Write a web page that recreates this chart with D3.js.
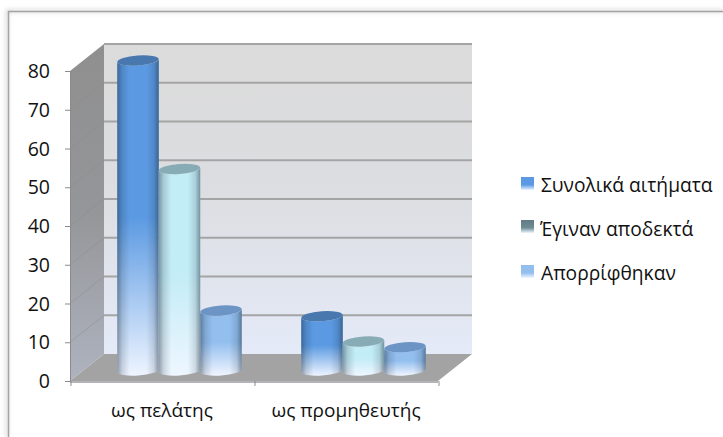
<!DOCTYPE html>
<html>
<head>
<meta charset="utf-8">
<script src="https://cdnjs.cloudflare.com/ajax/libs/d3/7.8.5/d3.min.js"></script>
<style>
html,body{margin:0;padding:0;background:#fff}
svg{display:block}
text{font-family:"Open Sans",sans-serif;fill:#111}
</style>
</head>
<body>
<svg id="chart" width="723" height="437"></svg>
<script>
const categories = ["ως πελάτης", "ως προμηθευτής"];
const seriesNames = ["Συνολικά αιτήματα", "Έγιναν αποδεκτά", "Απορρίφθηκαν"];
const totalRequests = [80, 14];
const accepted = [52, 7.5];
const rejected = [15.5, 6];
const yTicks = [0, 10, 20, 30, 40, 50, 60, 70, 80];
const seriesValues = [totalRequests, accepted, rejected];
const seriesColors = [
  {cap: "#4878ae", body: "#5b9ae2", pale: "#eef4ff"},
  {cap: "#88acb5", body: "#c2ecf6", pale: "#eef6ff"},
  {cap: "#6c95c6", body: "#93bfef", pale: "#f0f5ff"}
];

const svg = d3.select("#chart");
const defs = svg.append("defs");

// Plot geometry: front face of the box plus the depth offset to the back wall
const plot = {left: 70, right: 438, top: 71, bottom: 381, depthX: 34, depthY: -27};
const y = d3.scaleLinear().domain([0, 80]).range([plot.bottom, plot.top]);
const x0 = d3.scaleBand().domain(categories).range([plot.left, plot.right]);
const barBand = 124.5;
const x1 = d3.scaleBand().domain(d3.range(seriesNames.length)).range([0, barBand]);
const barShift = {x: 17.5, y: -10.5};

function vGrad(id, stops) {
  const g = defs.append("linearGradient").attr("id", id).attr("x1", 0).attr("y1", 0).attr("x2", 0).attr("y2", 1);
  stops.forEach(s => g.append("stop").attr("offset", s[0]).attr("stop-color", s[1]));
}
function hGrad(id, stops) {
  const g = defs.append("linearGradient").attr("id", id).attr("x1", 0).attr("y1", 0).attr("x2", 1).attr("y2", 0);
  stops.forEach(s => g.append("stop").attr("offset", s[0]).attr("stop-color", s[1]).attr("stop-opacity", s[2] === undefined ? 1 : s[2]));
}
vGrad("wallBack", [[0, "#dbdbdb"], [0.45, "#dcdde0"], [1, "#e4eaf8"]]);
vGrad("wallSide", [[0, "#8f8f8f"], [0.5, "#959699"], [1, "#aeb3bf"]]);
seriesColors.forEach((c, i) => {
  vGrad("bar" + i, [[0, c.body], [0.5, c.body], [1, c.pale]]);
  vGrad("key" + i, [[0, i === 1 ? "#5f7c86" : c.body], [0.6, i === 1 ? "#6f8c95" : c.body], [1, c.pale]]);
});
hGrad("shade", [[0, "#123", 0.42], [0.12, "#123", 0.16], [0.3, "#123", 0], [0.7, "#123", 0], [0.88, "#123", 0.14], [1, "#123", 0.45]]);
defs.append("filter").attr("id", "glow").attr("x", "-50%").attr("y", "-50%").attr("width", "200%").attr("height", "200%")
  .append("feGaussianBlur").attr("stdDeviation", 2);

// Chart frame: open at the bottom and right, with a faint shadow outside it
const frame = svg.append("g");
frame.append("path").attr("d", "M7,437V11H723").attr("fill", "none").attr("stroke", "#d8d8d8").attr("stroke-width", 3).attr("filter", "url(#glow)");
frame.append("path").attr("d", "M8.5,437V11.5H723").attr("fill", "none").attr("stroke", "#a3a3a3").attr("stroke-width", 1.5);

const scene = svg.append("g");
const d = plot;
const backX0 = d.left + d.depthX, backX1 = d.right + d.depthX;

// Back wall, side wall and floor
scene.append("rect").attr("x", backX0).attr("y", y(80) + d.depthY)
  .attr("width", backX1 - backX0).attr("height", y(0) - y(80)).attr("fill", "url(#wallBack)");
scene.append("path").attr("fill", "url(#wallSide)")
  .attr("d", `M${d.left},${y(80)}L${backX0},${y(80) + d.depthY}V${y(0) + d.depthY}L${d.left},${y(0)}Z`);
scene.append("path").attr("fill", "#a3a3a3")
  .attr("d", `M${d.left},${y(0)}L${backX0},${y(0) + d.depthY}H${backX1}L${d.right},${y(0)}Z`);
scene.append("rect").attr("x", d.left).attr("y", y(0)).attr("width", d.right - d.left).attr("height", 2).attr("fill", "#b4b4b8");

// Gridlines across the back wall and running down the side wall
scene.selectAll("line.grid").data(yTicks.slice(1)).join("line").attr("class", "grid")
  .attr("x1", backX0).attr("x2", backX1)
  .attr("y1", v => y(v) + d.depthY).attr("y2", v => y(v) + d.depthY)
  .attr("stroke", "#a4a4a4").attr("stroke-width", 2);
scene.selectAll("line.sidegrid").data(yTicks.slice(1, -1)).join("line").attr("class", "sidegrid")
  .attr("x1", d.left).attr("x2", backX0)
  .attr("y1", v => y(v)).attr("y2", v => y(v) + d.depthY)
  .attr("stroke", "#8a8a8a").attr("stroke-opacity", 0.45).attr("stroke-width", 1);

// Cylinders, drawn back to front in series order
const ry = 5, tilt = -4;
categories.forEach((cat, ci) => {
  seriesValues.forEach((vals, si) => {
    const v = vals[ci];
    const left = x0(cat) + (x0.bandwidth() - barBand) / 2 + x1(si) + barShift.x;
    const w = x1.bandwidth();
    const yTop = y(v) + barShift.y, yBase = y(0) + barShift.y;
    const tdy = Math.tan(-tilt * Math.PI / 180) * w;
    const body = `M${left},${yTop + tdy / 2}L${left},${yBase + tdy / 2}` +
      `A${w / 2},${ry} ${tilt} 0 0 ${left + w},${yBase - tdy / 2}` +
      `L${left + w},${yTop - tdy / 2}` +
      `A${w / 2},${ry} ${tilt} 0 1 ${left},${yTop + tdy / 2}Z`;
    scene.append("path").attr("d", body).attr("fill", `url(#bar${si})`);
    scene.append("path").attr("d", body).attr("fill", "url(#shade)");
    scene.append("ellipse").attr("cx", left + w / 2).attr("cy", yTop)
      .attr("rx", w / 2).attr("ry", ry)
      .attr("transform", `rotate(${tilt} ${left + w / 2} ${yTop})`)
      .attr("fill", seriesColors[si].cap);
  });
});

// Axes
const axisColor = "#8a8a8a";
const yAxis = svg.append("g").attr("transform", `translate(${d.left},0)`)
  .call(d3.axisLeft(y).tickValues(yTicks).tickSize(5).tickPadding(15));
yAxis.select(".domain").attr("stroke", axisColor);
yAxis.selectAll("line").attr("stroke", axisColor);
yAxis.selectAll("text").style("font-size", "19.5px").style("font-family", '"Open Sans",sans-serif').style("fill", "#111").attr("dy", "0.34em");

const xAxis = svg.append("g").attr("transform", `translate(0,${y(0)})`)
  .call(d3.axisBottom(x0).tickSize(0).tickPadding(23));
xAxis.select(".domain").remove();
xAxis.selectAll("text").style("font-size", "19px").style("font-family", '"Open Sans",sans-serif').style("fill", "#111");
svg.selectAll("line.xtick").data([d.left, x0(categories[1]), d.right]).join("line").attr("class", "xtick")
  .attr("x1", p => p + 1).attr("x2", p => p + 1).attr("y1", y(0)).attr("y2", y(0) + 5).attr("stroke", axisColor);

// Legend
const legendRows = [{key: 177, text: 192, x: 541}, {key: 220, text: 236, x: 540}, {key: 265, text: 280, x: 541}];
const legend = svg.append("g");
seriesNames.forEach((name, i) => {
  legend.append("rect").attr("x", 521).attr("y", legendRows[i].key).attr("width", 13).attr("height", 13)
    .attr("fill", `url(#key${i})`);
  legend.append("text").attr("x", legendRows[i].x).attr("y", legendRows[i].text)
    .style("font-size", "19.2px").text(name);
});
</script>
</body>
</html>
